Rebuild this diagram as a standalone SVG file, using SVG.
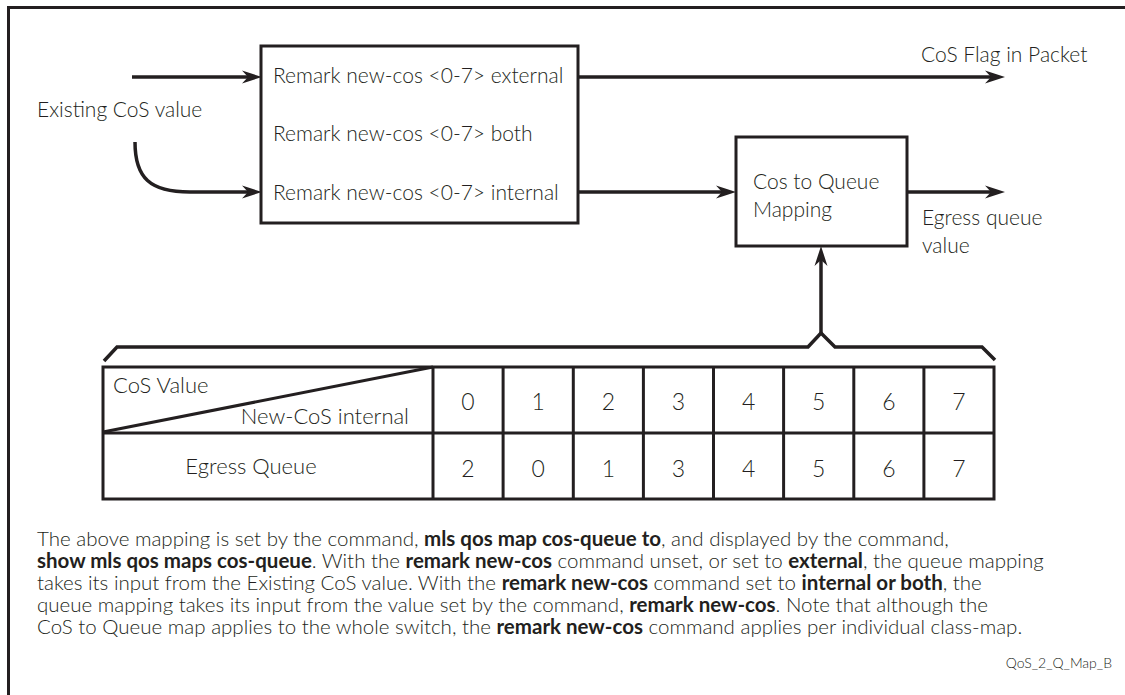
<svg xmlns="http://www.w3.org/2000/svg" width="1125" height="695" viewBox="0 0 1125 695">
  <style>
    .t { font-family: Lato, "Open Sans", "Liberation Sans", sans-serif; font-weight: 300; fill: #231f20; }
    .lbl { font-size: 21px; }
    .tl { font-size: 22px; }
    .dig { font-size: 23px; text-anchor: middle; }
    .par { font-size: 20.5px; }
    .b { font-weight: 700; }
    .ln { fill: none; stroke: #231f20; stroke-width: 3.5; }
    .box { fill: #ffffff; stroke: #231f20; stroke-width: 3; }
    .grid { fill: none; stroke: #231f20; stroke-width: 3; }
  </style>
  <defs>
    <marker id="ah" markerWidth="22" markerHeight="16" refX="12" refY="8" orient="auto" markerUnits="userSpaceOnUse" viewBox="0 0 22 16">
      <path d="M20,8 L0,1.5 L6,8 L0,14.5 Z" fill="#231f20"/>
    </marker>
  </defs>
  <rect x="0" y="0" width="1125" height="695" fill="#ffffff"/>
  <rect id="frame" x="8.5" y="7.5" width="1130" height="700" fill="none" stroke="#231f20" stroke-width="3"/>

  <g id="connectors">
    <line class="ln" x1="132" y1="77" x2="254" y2="77" marker-end="url(#ah)"/>
    <path class="ln" d="M135,142 C135,178 150,192 190,192 L254,192" marker-end="url(#ah)"/>
    <line class="ln" x1="578" y1="77" x2="997" y2="77" marker-end="url(#ah)"/>
    <line class="ln" x1="578" y1="192" x2="728" y2="192" marker-end="url(#ah)"/>
    <line class="ln" x1="907" y1="192" x2="997" y2="192" marker-end="url(#ah)"/>
    <line class="ln" x1="821" y1="334" x2="821" y2="254" marker-end="url(#ah)"/>
    <path class="ln" d="M104,361 L117,347 L808,347 L821,333 L835,347 L982,347 L995,360" stroke-width="3"/>
  </g>

  <g id="existing-cos">
    <text class="t lbl" x="37" y="117">Existing CoS value</text>
  </g>

  <g id="remark-box">
    <rect class="box" x="261" y="46" width="317" height="177"/>
    <text class="t lbl" x="273" y="83">Remark new-cos &lt;0-7&gt; external</text>
    <text class="t lbl" x="273" y="141">Remark new-cos &lt;0-7&gt; both</text>
    <text class="t lbl" x="273" y="200">Remark new-cos &lt;0-7&gt; internal</text>
  </g>

  <g id="cos-flag">
    <text class="t lbl" x="921" y="62">CoS Flag in Packet</text>
  </g>

  <g id="cos-queue-box">
    <rect class="box" x="736" y="137" width="171" height="109"/>
    <text class="t lbl" x="753" y="189">Cos to Queue</text>
    <text class="t lbl" x="753" y="217">Mapping</text>
  </g>

  <g id="egress-label">
    <text class="t lbl" x="922" y="225">Egress queue</text>
    <text class="t lbl" x="922" y="253">value</text>
  </g>

  <g id="table">
    <rect class="grid" x="103" y="367" width="891" height="132"/>
    <line class="grid" x1="103" y1="433" x2="994" y2="433"/>
    <line class="grid" x1="103" y1="432" x2="433" y2="367"/>
    <line class="grid" x1="433" y1="367" x2="433" y2="499"/>
    <line class="grid" x1="503.1" y1="367" x2="503.1" y2="499"/>
    <line class="grid" x1="573.3" y1="367" x2="573.3" y2="499"/>
    <line class="grid" x1="643.4" y1="367" x2="643.4" y2="499"/>
    <line class="grid" x1="713.5" y1="367" x2="713.5" y2="499"/>
    <line class="grid" x1="783.6" y1="367" x2="783.6" y2="499"/>
    <line class="grid" x1="853.8" y1="367" x2="853.8" y2="499"/>
    <line class="grid" x1="923.9" y1="367" x2="923.9" y2="499"/>
    <text class="t tl" x="113" y="393">CoS Value</text>
    <text class="t tl" x="409" y="424" text-anchor="end">New-CoS internal</text>
    <text class="t tl" x="251" y="474" text-anchor="middle">Egress Queue</text>
    <text class="t dig" x="468" y="410">0</text>
    <text class="t dig" x="538.2" y="410">1</text>
    <text class="t dig" x="608.3" y="410">2</text>
    <text class="t dig" x="678.4" y="410">3</text>
    <text class="t dig" x="748.6" y="410">4</text>
    <text class="t dig" x="818.7" y="410">5</text>
    <text class="t dig" x="888.8" y="410">6</text>
    <text class="t dig" x="958.9" y="410">7</text>
    <text class="t dig" x="468" y="477">2</text>
    <text class="t dig" x="538.2" y="477">0</text>
    <text class="t dig" x="608.3" y="477">1</text>
    <text class="t dig" x="678.4" y="477">3</text>
    <text class="t dig" x="748.6" y="477">4</text>
    <text class="t dig" x="818.7" y="477">5</text>
    <text class="t dig" x="888.8" y="477">6</text>
    <text class="t dig" x="958.9" y="477">7</text>
  </g>

  <g id="note">
    <text class="t par" x="37" y="546">The above mapping is set by the command, <tspan class="b">mls qos map cos-queue to</tspan>, and displayed by the command,</text>
    <text class="t par" x="37" y="568"><tspan class="b">show mls qos maps cos-queue</tspan>. With the <tspan class="b">remark new-cos</tspan> command unset, or set to <tspan class="b">external</tspan>, the queue mapping</text>
    <text class="t par" x="37" y="590">takes its input from the Existing CoS value. With the <tspan class="b">remark new-cos</tspan> command set to <tspan class="b">internal or both</tspan>, the</text>
    <text class="t par" x="37" y="612">queue mapping takes its input from the value set by the command, <tspan class="b">remark new-cos</tspan>. Note that although the</text>
    <text class="t par" x="37" y="634">CoS to Queue map applies to the whole switch, the <tspan class="b">remark new-cos</tspan> command applies per individual class-map.</text>
  </g>

  <g id="figure-id">
    <text class="t" x="1112" y="668" font-size="14" text-anchor="end">QoS_2_Q_Map_B</text>
  </g>
</svg>
